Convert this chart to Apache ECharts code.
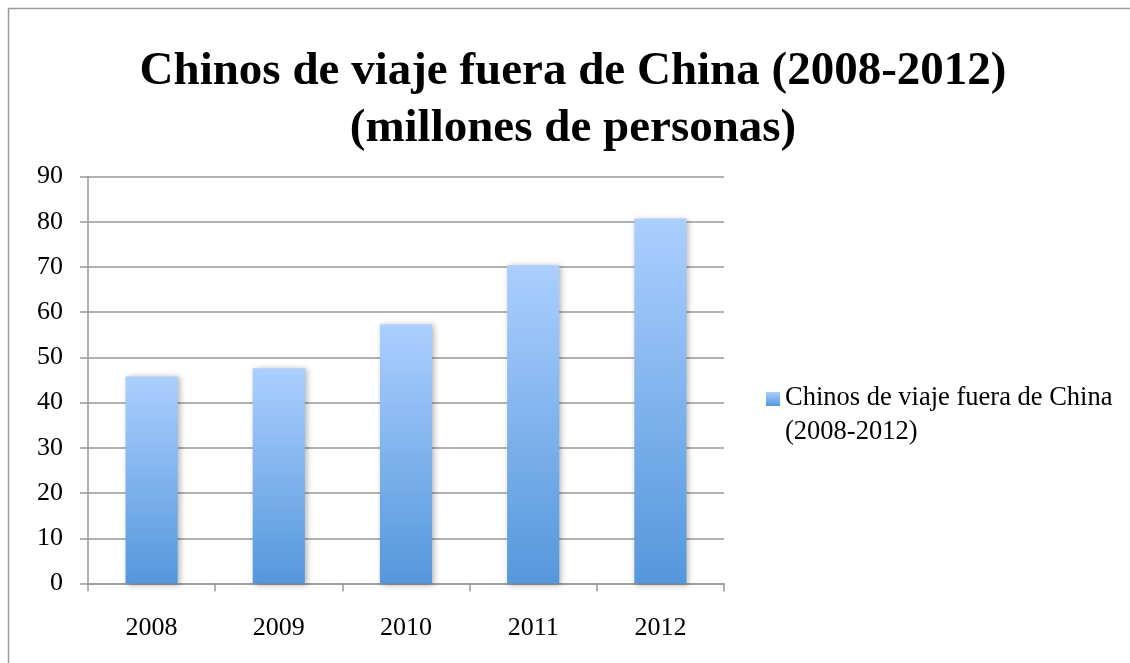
<!DOCTYPE html>
<html>
<head>
<meta charset="utf-8">
<script src="https://cdn.jsdelivr.net/npm/echarts@6/dist/echarts.min.js"></script>
<style>
html,body{margin:0;padding:0;background:#fff;}
#chart{width:1130px;height:663px;}
</style>
</head>
<body>
<div id="chart"></div>
<script>
const titleText = 'Chinos de viaje fuera de China (2008-2012)\n(millones de personas)';
const seriesName = 'Chinos de viaje fuera de China (2008-2012)';
const legendLabel = 'Chinos de viaje fuera de China\n(2008-2012)';
const categories = ['2008', '2009', '2010', '2011', '2012'];
const values = [45.8, 47.6, 57.3, 70.4, 80.7];
const yTicks = { min: 0, max: 90, interval: 10 };

const font = 'Liberation Serif, Times New Roman, serif';
const chart = echarts.init(document.getElementById('chart'));
chart.setOption({
  backgroundColor: '#fff',
  animation: false,
  graphic: [{
    type: 'rect',
    shape: { x: 8.5, y: 8.5, width: 1130, height: 700 },
    style: { fill: 'none', stroke: '#9a9a9a', lineWidth: 1.5 },
    silent: true
  }],
  title: {
    text: titleText,
    left: 568,
    textAlign: 'center',
    top: 38,
    textStyle: { fontFamily: font, fontSize: 47, fontWeight: 'bold', color: '#000', lineHeight: 57 }
  },
  legend: {
    left: 761,
    top: 376,
    orient: 'vertical',
    itemWidth: 14,
    itemHeight: 68,
    itemGap: 4,
    icon: 'path://M0,0L0.01,0L0.01,0.01Z M0,11h14v14h-14Z M0,68L0.01,68L0.01,67.99Z',
    data: [{
      name: seriesName,
      itemStyle: {
        color: new echarts.graphic.LinearGradient(0, 0, 0, 1, [
          { offset: 11 / 68, color: '#abcffe' },
          { offset: 25 / 68, color: '#5597dc' }
        ])
      }
    }],
    formatter: () => legendLabel,
    textStyle: { fontFamily: font, fontSize: 26.5, color: '#000', lineHeight: 34 }
  },
  grid: { left: 88, top: 176.5, right: 406, bottom: 79.5, containLabel: false },
  xAxis: {
    type: 'category',
    data: categories,
    axisLine: { lineStyle: { color: '#999', width: 1.5 } },
    axisTick: { show: true, length: 8, lineStyle: { color: '#999', width: 1.5 } },
    axisLabel: { fontFamily: font, fontSize: 26, color: '#000', margin: 32 }
  },
  yAxis: {
    type: 'value',
    min: yTicks.min, max: yTicks.max, interval: yTicks.interval,
    axisLine: { show: true, lineStyle: { color: '#999', width: 1.5 } },
    axisTick: { show: true, length: 8, lineStyle: { color: '#999', width: 1.5 } },
    axisLabel: { fontFamily: font, fontSize: 26, color: '#000', margin: 25 },
    splitLine: { lineStyle: { color: '#999', width: 1.5 } }
  },
  series: [{
    name: seriesName,
    type: 'bar',
    data: values,
    barWidth: '41%',
    itemStyle: {
      color: new echarts.graphic.LinearGradient(0, 0, 0, 1, [
        { offset: 0, color: '#abcffe' },
        { offset: 1, color: '#5597dc' }
      ]),
      shadowColor: 'rgba(0,0,0,0.3)',
      shadowBlur: 6,
      shadowOffsetX: 2,
      shadowOffsetY: 1
    }
  }]
});
</script>
</body>
</html>
